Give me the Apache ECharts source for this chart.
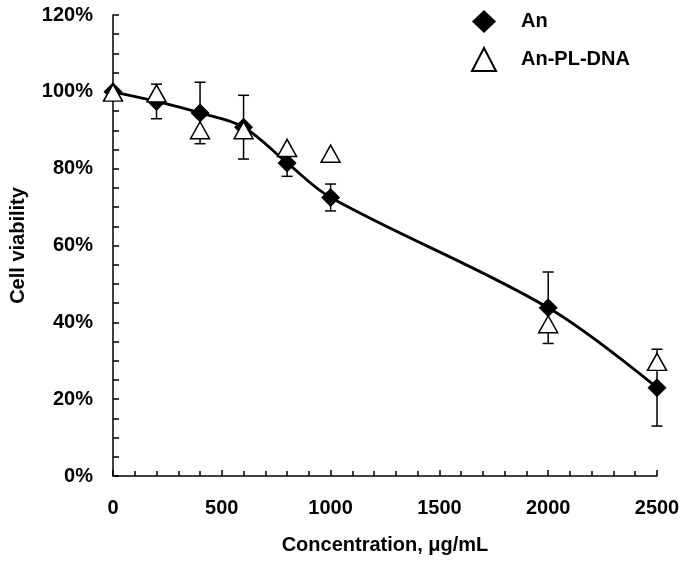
<!DOCTYPE html>
<html>
<head>
<meta charset="utf-8">
<script src="https://cdn.jsdelivr.net/npm/echarts@6/dist/echarts.min.js"></script>
<style>
  html, body { margin: 0; padding: 0; background: #fff; }
  #chart { width: 685px; height: 564px; }
</style>
</head>
<body>
<div id="chart"></div>
<script>
// concentration (µg/mL)
const conc = [0, 200, 400, 600, 800, 1000, 2000, 2500];
// cell viability (%)
const anValues = [100, 97.5, 94.5, 90.8, 81.5, 72.5, 43.8, 23];
const anErrors = [0, 4.5, 8, 8.3, 3.5, 3.5, 9.3, 10];
const plDnaValues = [99.8, 99.6, 90, 90, 85.4, 83.9, 39.5, 29.7];

const FONT = "Liberation Sans, Arial, sans-serif";

const chart = echarts.init(document.getElementById("chart"));

const anPoints = conc.map((x, i) => [x, anValues[i]]);
const plPoints = conc.map((x, i) => [x, plDnaValues[i]]);
const errData = conc
  .map((x, i) => [x, anValues[i] - anErrors[i], anValues[i] + anErrors[i]])
  .filter((d, i) => anErrors[i] > 0);

// error bar with caps
const renderErrorBar = (params, api) => {
  const lo = api.coord([api.value(0), api.value(1)]);
  const hi = api.coord([api.value(0), api.value(2)]);
  const cap = 5.5;
  const style = { stroke: "#000", lineWidth: 1.5 };

  return {
    type: "group",
    children: [
      { type: "line", shape: { x1: lo[0], y1: lo[1], x2: hi[0], y2: hi[1] }, style },
      { type: "line", shape: { x1: lo[0] - cap, y1: lo[1], x2: lo[0] + cap, y2: lo[1] }, style },
      { type: "line", shape: { x1: hi[0] - cap, y1: hi[1], x2: hi[0] + cap, y2: hi[1] }, style },
    ],
  };
};

const option = {
  animation: false,
  backgroundColor: "#fff",
  textStyle: { fontFamily: FONT },
  grid: { left: 111, right: 28, top: 15, bottom: 88, containLabel: false },
  legend: {
    orient: "vertical",
    left: 466,
    top: 5,
    itemWidth: 24,
    itemHeight: 23,
    itemGap: 14,
    textStyle: {
      fontFamily: FONT,
      fontSize: 20,
      fontWeight: "bold",
      color: "#000",
      padding: [0, 0, 0, 20],
    },
    data: [
      { name: "An", icon: "diamond" },
      { name: "An-PL-DNA", icon: "triangle" },
    ],
  },
  xAxis: {
    type: "value",
    min: 0,
    max: 2500,
    interval: 500,
    name: "Concentration, \u03bcg/mL",
    nameLocation: "middle",
    nameGap: 59,
    nameTextStyle: { fontFamily: FONT, fontSize: 20, fontWeight: "bold", color: "#000" },
    splitLine: { show: false },
    axisLine: { lineStyle: { color: "#000", width: 1.5 } },
    axisTick: { inside: true, length: 6, lineStyle: { color: "#000", width: 1.5 } },
    minorTick: { show: true, splitNumber: 5, length: 5, lineStyle: { color: "#000", width: 1.5 } },
    axisLabel: {
      margin: 22,
      fontFamily: FONT,
      fontSize: 20,
      fontWeight: "bold",
      color: "#000",
      formatter: (v) => String(v),
    },
  },
  yAxis: {
    type: "value",
    min: 0,
    max: 120,
    interval: 20,
    name: "Cell viability",
    nameLocation: "middle",
    nameGap: 85,
    nameTextStyle: { fontFamily: FONT, fontSize: 20, fontWeight: "bold", color: "#000" },
    splitLine: { show: false },
    axisLine: { lineStyle: { color: "#000", width: 1.5 } },
    axisTick: { inside: true, length: 6, lineStyle: { color: "#000", width: 1.5 } },
    minorTick: { show: true, splitNumber: 4, length: 6, lineStyle: { color: "#000", width: 1.5 } },
    axisLabel: {
      margin: 20,
      fontFamily: FONT,
      fontSize: 20,
      fontWeight: "bold",
      color: "#000",
      formatter: "{value}%",
    },
  },
  series: [
    {
      name: "errors",
      type: "custom",
      renderItem: renderErrorBar,
      encode: { x: 0, y: [1, 2] },
      data: errData,
      z: 1,
      silent: true,
    },
    {
      name: "curve",
      type: "line",
      data: anPoints,
      smooth: 0.35,
      symbol: "none",
      lineStyle: { color: "#000", width: 2.8 },
      z: 2,
      silent: true,
    },
    {
      name: "An",
      type: "scatter",
      data: anPoints,
      symbol: "diamond",
      symbolSize: 19,
      itemStyle: { color: "#000", opacity: 1 },
      z: 3,
    },
    {
      name: "An-PL-DNA",
      type: "scatter",
      data: plPoints,
      symbol: "triangle",
      symbolSize: [19, 17],
      itemStyle: { color: "#fff", borderColor: "#000", borderWidth: 1.5, opacity: 1 },
      z: 4,
    },
  ],
};

chart.setOption(option);
</script>
</body>
</html>
